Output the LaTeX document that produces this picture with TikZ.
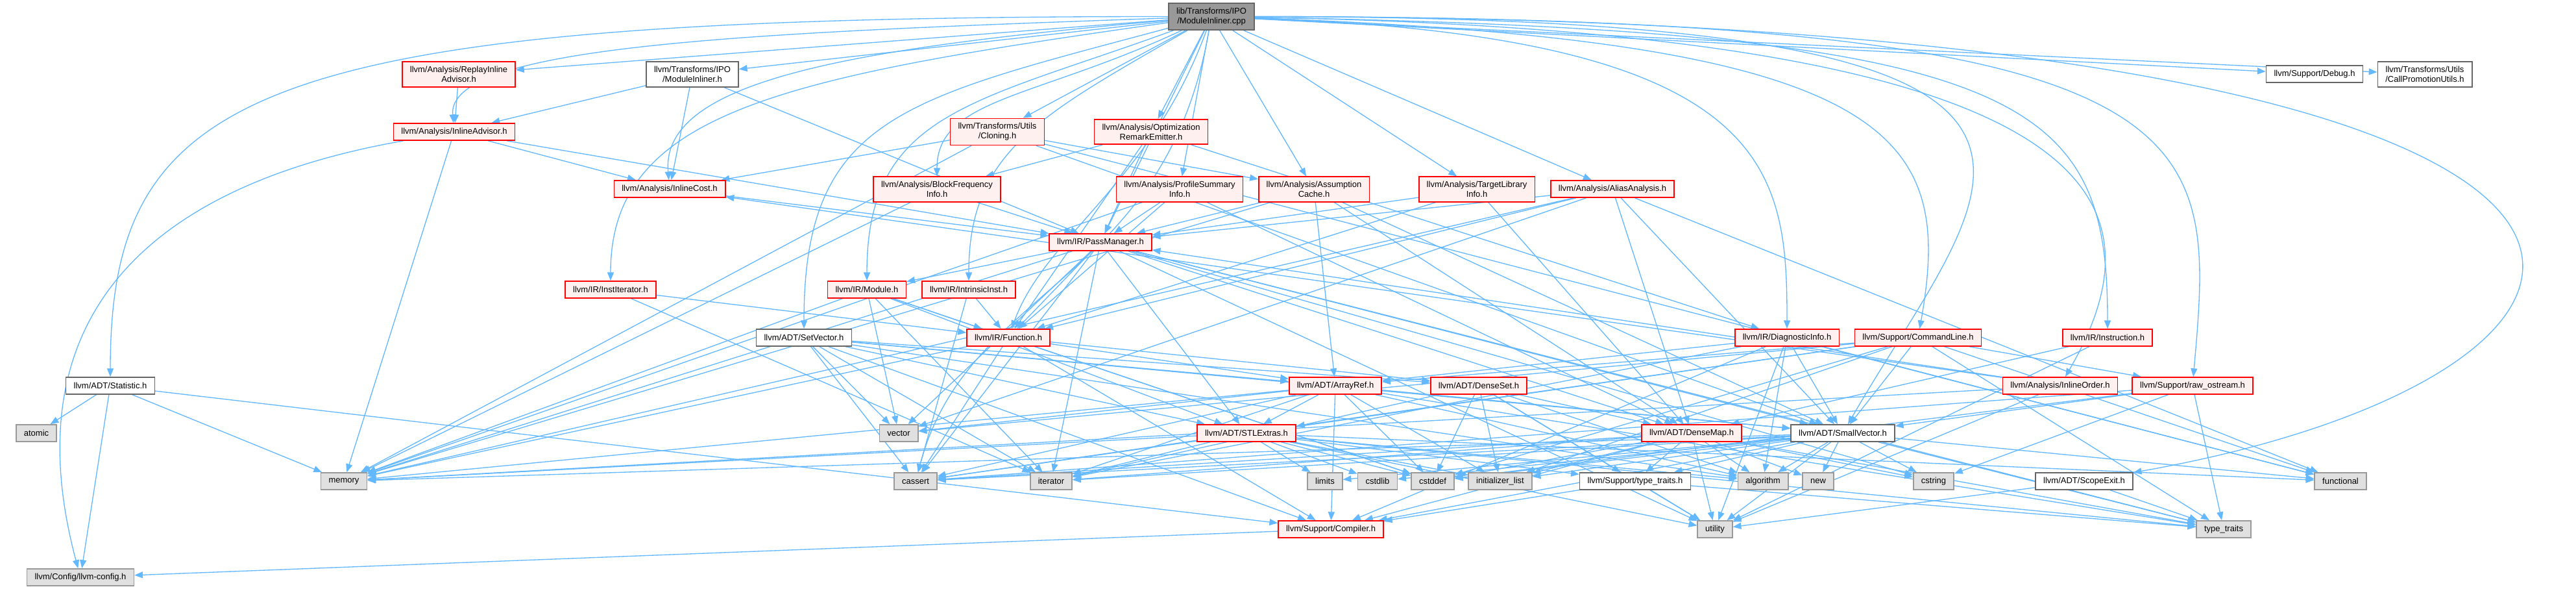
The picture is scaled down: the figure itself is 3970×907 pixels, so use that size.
\documentclass[tikz,border=0pt]{standalone}
\usepackage{fontspec}
\setmainfont{Liberation Sans}
\usepackage{xcolor}
\definecolor{aristaAzul}{HTML}{63B8FF}
\definecolor{bordeRojo}{HTML}{FF0000}
\definecolor{fondoRojo}{HTML}{FFF0F0}
\definecolor{bordeGris}{HTML}{999999}
\definecolor{fondoGris}{HTML}{E0E0E0}
\definecolor{bordeOscuro}{HTML}{666666}
\usepackage{tikz}
\usetikzlibrary{arrows.meta,positioning}
\pgfdeclarelayer{fondo}
\pgfsetlayers{fondo,main}

\tikzset{
  cabecera/.style={draw,rectangle,align=center,font=\fontsize{3.25}{3.75}\selectfont,
    inner xsep=3pt,inner ysep=1.75pt,minimum height=6.5pt,line width=0.4pt},
  nodoRojo/.style={cabecera,draw=bordeRojo,fill=fondoRojo},
  nodoBlanco/.style={cabecera,draw=bordeOscuro,fill=white},
  nodoGris/.style={cabecera,draw=bordeGris,fill=fondoGris},
  nodoRaiz/.style={cabecera,draw=bordeOscuro,fill=bordeGris},
  inclusion/.style={color=aristaAzul,line width=0.33pt,
    -{Triangle[length=3.2pt,width=2.5pt,fill=aristaAzul]}},
}

\begin{document}
\begin{tikzpicture}[x=0.25pt,y=-0.25pt]

\useasboundingbox (0,0) rectangle (3970,907);

% Fichero raiz y cabeceras
\node[nodoRaiz]   (raiz)      at (1867,25.5)  {lib/Transforms/IPO\\/ModuleInliner.cpp};
\node[nodoRojo]   (replay)    at (707,114.5)  {llvm/Analysis/ReplayInline\\Advisor.h};
\node[nodoBlanco] (mih)       at (1067,114.5) {llvm/Transforms/IPO\\/ModuleInliner.h};
\node[nodoBlanco] (debug)     at (3567,114)   {llvm/Support/Debug.h};
\node[nodoBlanco] (cpu)       at (3737,114.5) {llvm/Transforms/Utils\\/CallPromotionUtils.h};
\node[nodoRojo]   (advisor)   at (700,203)    {llvm/Analysis/InlineAdvisor.h};
\node[nodoRojo]   (cloning)   at (1537,203)   {llvm/Transforms/Utils\\/Cloning.h};
\node[nodoRojo]   (ore)       at (1774,203)   {llvm/Analysis/Optimization\\RemarkEmitter.h};
\node[nodoRojo]   (cost)      at (1032,291)   {llvm/Analysis/InlineCost.h};
\node[nodoRojo]   (bfi)       at (1444,291.5) {llvm/Analysis/BlockFrequency\\Info.h};
\node[nodoRojo]   (psi)       at (1818,291.5) {llvm/Analysis/ProfileSummary\\Info.h};
\node[nodoRojo]   (ac)        at (2025,291.5) {llvm/Analysis/Assumption\\Cache.h};
\node[nodoRojo]   (tli)       at (2276,291.5) {llvm/Analysis/TargetLibrary\\Info.h};
\node[nodoRojo]   (aa)        at (2485,291)   {llvm/Analysis/AliasAnalysis.h};
\node[nodoRojo]   (pm)        at (1696,373)   {llvm/IR/PassManager.h};
\node[nodoRojo]   (institer)  at (941,446)    {llvm/IR/InstIterator.h};
\node[nodoRojo]   (module)    at (1336,446)   {llvm/IR/Module.h};
\node[nodoRojo]   (intrin)    at (1493,446)   {llvm/IR/IntrinsicInst.h};
\node[nodoBlanco] (setvec)    at (1239,520)   {llvm/ADT/SetVector.h};
\node[nodoRojo]   (function)  at (1554,520)   {llvm/IR/Function.h};
\node[nodoRojo]   (diag)      at (2754,520)   {llvm/IR/DiagnosticInfo.h};
\node[nodoRojo]   (cl)        at (2956,520)   {llvm/Support/CommandLine.h};
\node[nodoRojo]   (instr)     at (3248,520)   {llvm/IR/Instruction.h};
\node[nodoBlanco] (statistic) at (170,594)    {llvm/ADT/Statistic.h};
\node[nodoRojo]   (arrayref)  at (2058,594)   {llvm/ADT/ArrayRef.h};
\node[nodoRojo]   (denseset)  at (2279,594)   {llvm/ADT/DenseSet.h};
\node[nodoRojo]   (order)     at (3175,594)   {llvm/Analysis/InlineOrder.h};
\node[nodoRojo]   (rawos)     at (3379,594)   {llvm/Support/raw\_ostream.h};
\node[nodoGris]   (atomic)    at (56,667)     {atomic};
\node[nodoGris]   (vector)    at (1385,667)   {vector};
\node[nodoRojo]   (stlextras) at (1921,667)   {llvm/ADT/STLExtras.h};
\node[nodoRojo]   (densemap)  at (2607,667)   {llvm/ADT/DenseMap.h};
\node[nodoBlanco] (smallvec)  at (2840,667)   {llvm/ADT/SmallVector.h};
\node[nodoGris]   (memory)    at (530,741)    {memory};
\node[nodoGris]   (cassert)   at (1411,741)   {cassert};
\node[nodoGris]   (iterator)  at (1620,741)   {iterator};
\node[nodoGris]   (limits)    at (2042,741)   {limits};
\node[nodoGris]   (cstdlib)   at (2123,741)   {cstdlib};
\node[nodoGris]   (cstddef)   at (2208,741)   {cstddef};
\node[nodoGris]   (initlist)  at (2312,741)   {initializer\_list};
\node[nodoBlanco] (typetrh)   at (2520,741)   {llvm/Support/type\_traits.h};
\node[nodoGris]   (algorithm) at (2717,741)   {algorithm};
\node[nodoGris]   (new)       at (2802,741)   {new};
\node[nodoGris]   (cstring)   at (2980,741)   {cstring};
\node[nodoBlanco] (scopeexit) at (3212,741)   {llvm/ADT/ScopeExit.h};
\node[nodoGris]   (functional) at (3607,741)  {functional};
\node[nodoRojo]   (compiler)  at (2051,815)   {llvm/Support/Compiler.h};
\node[nodoGris]   (utility)   at (2643,815)   {utility};
\node[nodoGris]   (typetraits) at (3427,815)  {type\_traits};
\node[nodoGris]   (llvmconfig) at (124,889)   {llvm/Config/llvm-config.h};

\begin{pgfonlayer}{fondo}
% Lienzo
\fill[white] (0,0) rectangle (3970,907);

% Inclusiones directas
\path[inclusion] (raiz)
  edge (replay) edge (mih) edge (cloning) edge (ore) edge (psi) edge (pm)
  edge (ac) edge (tli) edge (aa) edge (debug) edge (cpu)
  edge[out=180,in=90,out distance=350pt,in distance=112pt] (statistic)
  edge[out=182,in=95,out distance=162pt,in distance=30pt] (advisor)
  edge[out=185,in=95,out distance=125pt,in distance=38pt] (cost)
  edge[out=188,in=90,out distance=150pt,in distance=65pt] (institer)
  edge[out=195,in=90,out distance=105pt,in distance=82pt] (setvec)
  edge[out=200,in=90,out distance=82pt,in distance=65pt] (module)
  edge[out=210,in=90,out distance=65pt,in distance=50pt] (intrin)
  edge[out=205,in=90,out distance=62pt,in distance=30pt] (bfi)
  edge[out=250,in=70,out distance=62pt,in distance=38pt] (function)
  edge[out=260,in=75,out distance=100pt,in distance=75pt] (cassert)
  edge[out=-2,in=90,out distance=200pt,in distance=62pt] (diag)
  edge[out=-2,in=80,out distance=250pt,in distance=75pt] (cl)
  edge[out=-1,in=90,out distance=300pt,in distance=88pt] (instr)
  edge[out=-1,in=60,out distance=338pt,in distance=75pt] (order)
  edge[out=0,in=60,out distance=362pt,in distance=112pt] (smallvec)
  edge[out=0,in=85,out distance=375pt,in distance=95pt] (rawos)
  edge[out=0,in=10,out distance=600pt,in distance=225pt] (scopeexit);

% Analisis
\path[inclusion] (mih) edge (advisor) edge (cost) edge (pm);
\path[inclusion] (replay) edge (advisor);
\path[inclusion] (advisor) edge (cost) edge (pm) edge (memory)
  edge[out=190,in=105,out distance=100pt,in distance=100pt] (llvmconfig);
\path[inclusion] (cloning) edge (cost) edge (ac) edge (smallvec)
  edge (functional) edge (memory);
\path[inclusion] (ore) edge (bfi) edge (pm) edge (diag) edge (function);
\path[inclusion] (bfi) edge (pm) edge (memory);
\path[inclusion] (psi) edge (pm) edge (densemap) edge (function) edge (memory);
\path[inclusion] (ac) edge (pm) edge (arrayref) edge (densemap)
  edge (smallvec) edge (memory);
\path[inclusion] (tli) edge (pm) edge (densemap) edge (function);
\path[inclusion] (aa) edge (pm) edge (densemap) edge (smallvec)
  edge (function) edge (functional) edge (memory) edge (vector);
\path[inclusion] (cost) edge (pm);
\path[inclusion] (order) edge (cost) edge (pm) edge (memory) edge (utility);

% IR
\path[inclusion] (pm) edge (module) edge (function) edge (stlextras)
  edge (smallvec) edge (densemap) edge (memory) edge (vector)
  edge (cassert) edge (iterator) edge (typetraits) edge (utility)
  edge (cstring);
\path[inclusion] (institer) edge (function) edge (iterator);
\path[inclusion] (module) edge (function) edge (stlextras) edge (iterator)
  edge (memory) edge (vector) edge (cstddef);
\path[inclusion] (intrin) edge (function) edge (cassert);
\path[inclusion] (function) edge (arrayref) edge (denseset) edge (compiler)
  edge (cassert) edge (cstddef) edge (memory);
\path[inclusion] (diag) edge (arrayref) edge (smallvec) edge (compiler)
  edge (algorithm) edge (functional) edge (iterator) edge (utility);
\path[inclusion] (instr) edge (densemap) edge (utility);

% ADT y Support
\path[inclusion] (setvec) edge (arrayref) edge (denseset) edge (stlextras)
  edge (smallvec) edge (compiler) edge (algorithm) edge (cassert)
  edge (iterator) edge (vector);
\path[inclusion] (statistic) edge (atomic) edge (memory) edge (llvmconfig)
  edge (compiler);
\path[inclusion] (arrayref) edge (stlextras) edge (smallvec) edge (compiler)
  edge (algorithm) edge (cassert) edge (cstddef) edge (initlist)
  edge (iterator) edge (memory) edge (typetraits) edge (vector);
\path[inclusion] (denseset) edge (densemap) edge (typetrh) edge (algorithm)
  edge (cstddef) edge (initlist) edge (iterator) edge (utility);
\path[inclusion] (stlextras) edge (typetrh) edge (algorithm) edge (cassert)
  edge (cstddef) edge (cstdlib) edge (functional) edge (initlist)
  edge (iterator) edge (limits) edge (memory) edge (typetraits)
  edge (utility);
\path[inclusion] (densemap) edge (compiler) edge (typetrh) edge (algorithm)
  edge (cassert) edge (cstddef) edge (cstring) edge (initlist)
  edge (iterator) edge (new) edge (typetraits) edge (utility);
\path[inclusion] (smallvec) edge (compiler) edge (typetrh) edge (algorithm)
  edge (cassert) edge (cstddef) edge (cstdlib) edge (cstring)
  edge (functional) edge (initlist) edge (iterator) edge (limits)
  edge (memory) edge (new) edge (typetraits) edge (utility);
\path[inclusion] (cl) edge (arrayref) edge (stlextras) edge (smallvec)
  edge (rawos) edge (cassert) edge (cstddef) edge (functional)
  edge (initlist) edge (typetraits) edge (vector);
\path[inclusion] (rawos) edge (smallvec) edge (cassert) edge (cstddef)
  edge (cstring) edge (typetraits);
\path[inclusion] (scopeexit) edge (typetraits) edge (utility);
\path[inclusion] (typetrh) edge (compiler) edge (typetraits) edge (utility);
\path[inclusion] (compiler) edge (llvmconfig);
\end{pgfonlayer}

\end{tikzpicture}
\end{document}
